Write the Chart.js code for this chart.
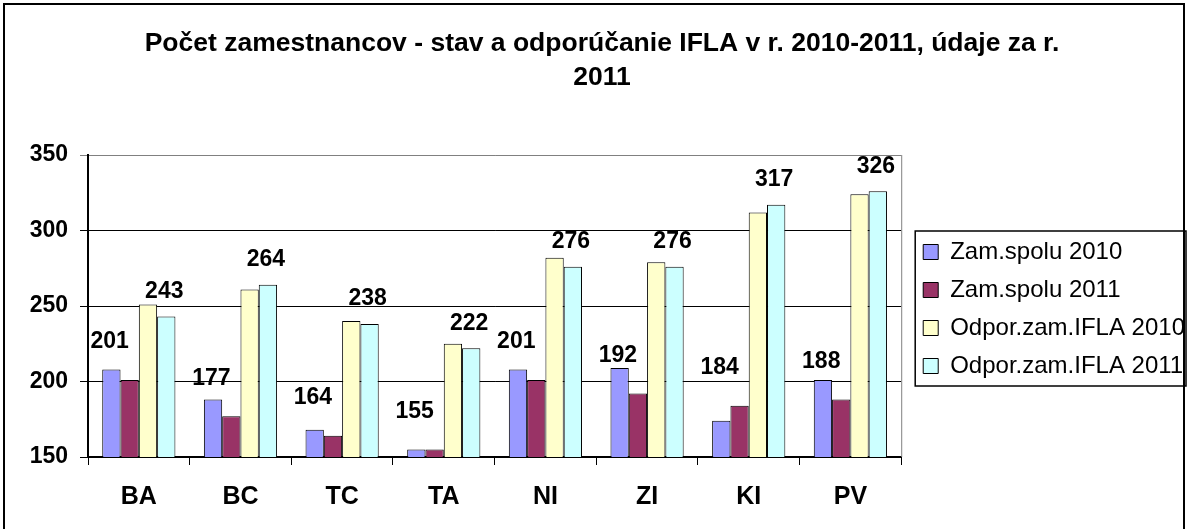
<!DOCTYPE html>
<html>
<head>
<meta charset="utf-8">
<script src="https://cdn.jsdelivr.net/npm/chart.js@4"></script>
<style>
  body { margin: 0; background: #fff; }
  #wrap { width: 1188px; height: 529px; position: relative; }
</style>
</head>
<body>
<div id="wrap"><canvas id="chart" width="1188" height="529"></canvas></div>
<script>
// Data
const regions = ['BA', 'BC', 'TC', 'TA', 'NI', 'ZI', 'KI', 'PV'];
const zam2010 = [208, 188, 168, 155, 208, 209, 174, 201];
const zam2011 = [201, 177, 164, 155, 201, 192, 184, 188];
const ifla2010 = [251, 261, 240, 225, 282, 279, 312, 324];
const ifla2011 = [243, 264, 238, 222, 276, 276, 317, 326];
const yTicks = [150, 200, 250, 300, 350];
const titleLines = ['Počet zamestnancov - stav a odporúčanie IFLA v r. 2010-2011, údaje za r.', '2011'];

const FONT = '"Liberation Sans", Arial, sans-serif';

// Title, frame, plot border, legend border
const decorations = {
    id: 'decorations',
    afterLayout(chart) {
        // push the legend a bit to the right, away from the plot
        chart.legend.left += 8;
        chart.legend.right += 8;
        chart.legend.top += 3;
        chart.legend.bottom += 3;
    },
    afterDraw(chart) {
        const ctx = chart.ctx;
        const area = chart.chartArea;
        ctx.save();
        // outer frame
        ctx.strokeStyle = '#000';
        ctx.lineWidth = 2;
        ctx.strokeRect(4, 4, 1180, 560);
        // title
        ctx.fillStyle = '#000';
        ctx.font = 'bold 26.5px ' + FONT;
        ctx.textAlign = 'center';
        ctx.textBaseline = 'middle';
        ctx.fillText(titleLines[0], 602, 44);
        ctx.fillText(titleLines[1], 602, 78);
        // plot area right border (grey)
        ctx.strokeStyle = '#808080';
        ctx.lineWidth = 1;
        ctx.beginPath();
        ctx.moveTo(area.right + 0.5, area.top);
        ctx.lineTo(area.right + 0.5, area.bottom);
        ctx.stroke();
        // legend border
        const boxes = chart.legend.legendHitBoxes;
        if (boxes && boxes.length) {
            const l = Math.min(...boxes.map(b => b.left)) - 8;
            const t = Math.min(...boxes.map(b => b.top)) - 9;
            const r = Math.min(Math.max(...boxes.map(b => b.left + b.width)) + 1, 1186);
            const btm = Math.max(...boxes.map(b => b.top + b.height)) + 8;
            ctx.strokeStyle = '#000';
            ctx.lineWidth = 1.5;
            ctx.strokeRect(l, t, r - l, btm - t);
        }
        ctx.restore();
    }
};

// Value labels for the 2011 series
const valueLabels = {
    id: 'valueLabels',
    afterDatasetsDraw(chart) {
        const ctx = chart.ctx;
        ctx.save();
        ctx.fillStyle = '#000';
        ctx.font = 'bold 23px ' + FONT;
        ctx.textAlign = 'center';
        ctx.textBaseline = 'middle';
        const specs = [{ ds: 1, dx: -20, dy: 38 }, { ds: 3, dx: -2, dy: 25 }];
        specs.forEach(s => {
            const meta = chart.getDatasetMeta(s.ds);
            meta.data.forEach((bar, i) => {
                const v = chart.data.datasets[s.ds].data[i];
                ctx.fillText(String(v), bar.x + s.dx, bar.y - s.dy);
            });
        });
        ctx.restore();
    }
};

const ctx = document.getElementById('chart').getContext('2d');
new Chart(ctx, {
    type: 'bar',
    data: {
        labels: regions,
        datasets: [
            { label: 'Zam.spolu 2010', data: zam2010, backgroundColor: '#9999FF' },
            { label: 'Zam.spolu 2011', data: zam2011, backgroundColor: '#993366' },
            { label: 'Odpor.zam.IFLA 2010', data: ifla2010, backgroundColor: '#FFFFCC' },
            { label: 'Odpor.zam.IFLA 2011', data: ifla2011, backgroundColor: '#CCFFFF' }
        ]
    },
    options: {
        responsive: false,
        animation: false,
        layout: { padding: { top: 155, left: 0, right: 1, bottom: 0 } },
        datasets: {
            bar: {
                borderColor: '#000',
                borderWidth: 1,
                categoryPercentage: 0.72,
                barPercentage: 1
            }
        },
        plugins: {
            title: { display: false },
            tooltip: { enabled: false },
            legend: {
                position: 'right',
                align: 'center',
                fullSize: false,
                labels: {
                    color: '#000',
                    font: { family: FONT, size: 24 },
                    boxWidth: 15,
                    boxHeight: 15,
                    padding: 14
                }
            }
        },
        scales: {
            x: {
                grid: {
                    display: true,
                    offset: true,
                    drawOnChartArea: false,
                    drawTicks: true,
                    tickLength: 8,
                    color: '#000'
                },
                border: { color: '#000', width: 2 },
                ticks: {
                    color: '#000',
                    font: { family: FONT, size: 25, weight: 'bold' },
                    padding: 17
                },
                afterFit(scale) { scale.height = 72; }
            },
            y: {
                min: 150,
                max: 350,
                afterBuildTicks(scale) { scale.ticks = yTicks.map(v => ({ value: v })); },
                grid: {
                    color: ctx => (ctx.tick && ctx.tick.value === 350 ? '#808080' : '#000'),
                    lineWidth: 1,
                    tickLength: 8
                },
                border: { color: '#000', width: 2 },
                ticks: {
                    color: '#000',
                    font: { family: FONT, size: 23, weight: 'bold' },
                    padding: 12
                },
                afterFit(scale) { scale.width = 88; }
            }
        }
    },
    plugins: [decorations, valueLabels]
});
</script>
</body>
</html>
